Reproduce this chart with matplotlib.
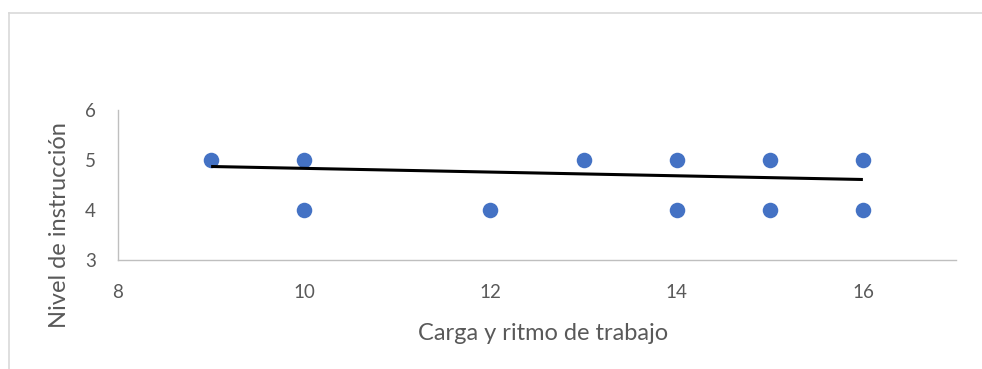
import matplotlib
matplotlib.use("Agg")
import matplotlib.pyplot as plt
from matplotlib.lines import Line2D

plt.rcParams['font.family'] = ['Lato', 'DejaVu Sans']

# Scatter data
carga = [9, 10, 10, 12, 13, 14, 14, 15, 15, 16, 16]
nivel = [5, 5, 4, 4, 5, 5, 4, 5, 4, 5, 4]

# Linear trend line end points
trend_x = [9, 16]
trend_y = [4.87, 4.61]

x_ticks = [8, 10, 12, 14, 16]
y_ticks = [3, 4, 5, 6]

text_gray = '#595959'
axis_gray = '#BFBFBF'

fig = plt.figure(figsize=(9.82, 3.69), dpi=100)
ax = fig.add_axes([118 / 982, 1 - 260 / 369, 838 / 982, 150 / 369])

ax.scatter(carga, nivel, s=125, color='#4472C4', linewidths=0, zorder=3)
ax.plot(trend_x, trend_y, color='black', linewidth=2.2, solid_capstyle='butt', zorder=4)

ax.set_xlim(8, 17)
ax.set_ylim(3, 6)
ax.set_xticks(x_ticks)
ax.set_yticks(y_ticks)
ax.tick_params(axis='x', length=0, pad=17, labelsize=13.5, labelcolor=text_gray)
ax.tick_params(axis='y', length=0, pad=16, labelsize=13.5, labelcolor=text_gray)

for side in ['top', 'right']:
    ax.spines[side].set_visible(False)
for side in ['left', 'bottom']:
    ax.spines[side].set_color(axis_gray)
    ax.spines[side].set_linewidth(1.0)

# Axis titles
fig.text(543 / 982, 1 - 333 / 369, 'Carga y ritmo de trabajo', ha='center', va='center',
         fontsize=17, color=text_gray)
fig.text(60 / 982, 1 - 225 / 369, 'Nivel de instrucción', ha='center', va='center',
         rotation=90, fontsize=17, color=text_gray)

# Chart area outline
border_x = 9 / 982
border_y = 1 - 12.5 / 369
fig.add_artist(Line2D([border_x, border_x], [0, border_y], transform=fig.transFigure,
                      color='#D9D9D9', linewidth=1.2))
fig.add_artist(Line2D([border_x, 1], [border_y, border_y], transform=fig.transFigure,
                      color='#D9D9D9', linewidth=1.2))

fig.savefig('out.png', dpi=100)
